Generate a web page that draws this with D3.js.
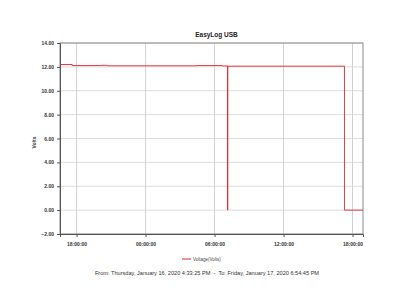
<!DOCTYPE html>
<html>
<head>
<meta charset="utf-8">
<script src="https://cdn.jsdelivr.net/npm/d3@7"></script>
<style>
  body { margin: 0; background: #fff; }
  text { font-family: "Liberation Sans", Arial, sans-serif; }
</style>
</head>
<body>
<svg id="chart" width="400" height="308"></svg>
<script>
// readings (local time) and voltage
const times = [
  '2020-01-16T16:33:25', '2020-01-16T17:37:00', '2020-01-16T20:05:00',
  '2020-01-16T20:40:00', '2020-01-17T04:28:00', '2020-01-17T06:39:00',
  '2020-01-17T07:08:00', '2020-01-17T07:09:00', '2020-01-17T17:18:00',
  '2020-01-17T18:54:45'
];
const volts = [12.20, 12.11, 12.13, 12.09, 12.11, 12.08, 0.00, 12.06, 0.00, 0.00];

const yTicks = [-2, 0, 2, 4, 6, 8, 10, 12, 14];
const xTicks = ['2020-01-16T18:00:00', '2020-01-17T00:00:00', '2020-01-17T06:00:00',
  '2020-01-17T12:00:00', '2020-01-17T18:00:00'];
const startTime = '2020-01-16T16:33:25';
const endTime = '2020-01-17T18:54:45';

const title = 'EasyLog USB';
const seriesName = 'Voltage(Volts)';
const yLabel = 'Volts';
const caption = 'From: Thursday, January 16, 2020 4:33:25 PM  -  To: Friday, January 17, 2020 6:54:45 PM';

const parse = d3.timeParse('%Y-%m-%dT%H:%M:%S');
const data = times.map((t, i) => ({ t: parse(t), v: volts[i] }));

const svg = d3.select('#chart');
const m = { left: 60, right: 363, top: 43, bottom: 234 };

const x = d3.scaleTime()
  .domain([parse(startTime), parse(endTime)])
  .range([m.left, m.right]);

const y = d3.scaleLinear()
  .domain([-2, 14])
  .range([m.bottom, m.top]);

// grid
svg.append('g')
  .selectAll('line')
  .data(yTicks)
  .join('line')
  .attr('x1', m.left).attr('x2', m.right)
  .attr('y1', d => y(d)).attr('y2', d => y(d))
  .attr('stroke', '#dcdcdc').attr('stroke-width', 1);

svg.append('g')
  .selectAll('line')
  .data(xTicks.map(parse))
  .join('line')
  .attr('x1', d => x(d)).attr('x2', d => x(d))
  .attr('y1', m.top).attr('y2', m.bottom)
  .attr('stroke', '#d2d2d2').attr('stroke-width', 1);

// frame
svg.append('rect')
  .attr('x', m.left).attr('y', m.top)
  .attr('width', m.right - m.left).attr('height', m.bottom - m.top)
  .attr('fill', 'none').attr('stroke', '#8a8a8a').attr('stroke-width', 1);

// axes
const yAxis = svg.append('g')
  .attr('transform', `translate(${m.left},0)`)
  .call(d3.axisLeft(y).tickValues(yTicks).tickSize(3).tickPadding(3)
    .tickFormat(d3.format('.2f')));

const xAxis = svg.append('g')
  .attr('transform', `translate(0,${m.bottom})`)
  .call(d3.axisBottom(x).tickValues(xTicks.map(parse)).tickSize(3).tickPadding(5)
    .tickFormat(d3.timeFormat('%H:%M:%S')));

[yAxis, xAxis].forEach(a => {
  a.select('.domain').attr('stroke', '#555');
  a.selectAll('.tick line').attr('stroke', '#555');
  a.selectAll('text')
    .attr('font-size', 5)
    .attr('font-weight', 'bold')
    .attr('fill', '#333');
});

// series
const line = d3.line()
  .x(d => x(d.t))
  .y(d => y(d.v))
  .curve(d3.curveStepAfter);

svg.append('path')
  .datum(data)
  .attr('fill', 'none')
  .attr('stroke', '#e0262b')
  .attr('stroke-width', 0.9)
  .attr('d', line);

// title and labels
svg.append('text')
  .attr('x', (m.left + m.right) / 2 + 5).attr('y', 37)
  .attr('text-anchor', 'middle')
  .attr('font-size', 6.5).attr('font-weight', 'bold')
  .attr('fill', '#222')
  .text(title);

svg.append('text')
  .attr('transform', `translate(36,${(m.top + m.bottom) / 2 + 4}) rotate(-90)`)
  .attr('text-anchor', 'middle')
  .attr('font-size', 5).attr('font-weight', 'bold')
  .attr('fill', '#333')
  .text(yLabel);

const legend = svg.append('g').attr('transform', 'translate(182,259)');
legend.append('line')
  .attr('x1', 0).attr('x2', 9).attr('y1', 0).attr('y2', 0)
  .attr('stroke', '#e0262b').attr('stroke-width', 1);
legend.append('text')
  .attr('x', 11).attr('y', 1.7)
  .attr('font-size', 4.5).attr('fill', '#444')
  .text(seriesName);

svg.append('text')
  .attr('x', 207).attr('y', 275)
  .attr('text-anchor', 'middle')
  .attr('font-size', 5.6).attr('fill', '#333')
  .attr('xml:space', 'preserve')
  .text(caption);
</script>
</body>
</html>
